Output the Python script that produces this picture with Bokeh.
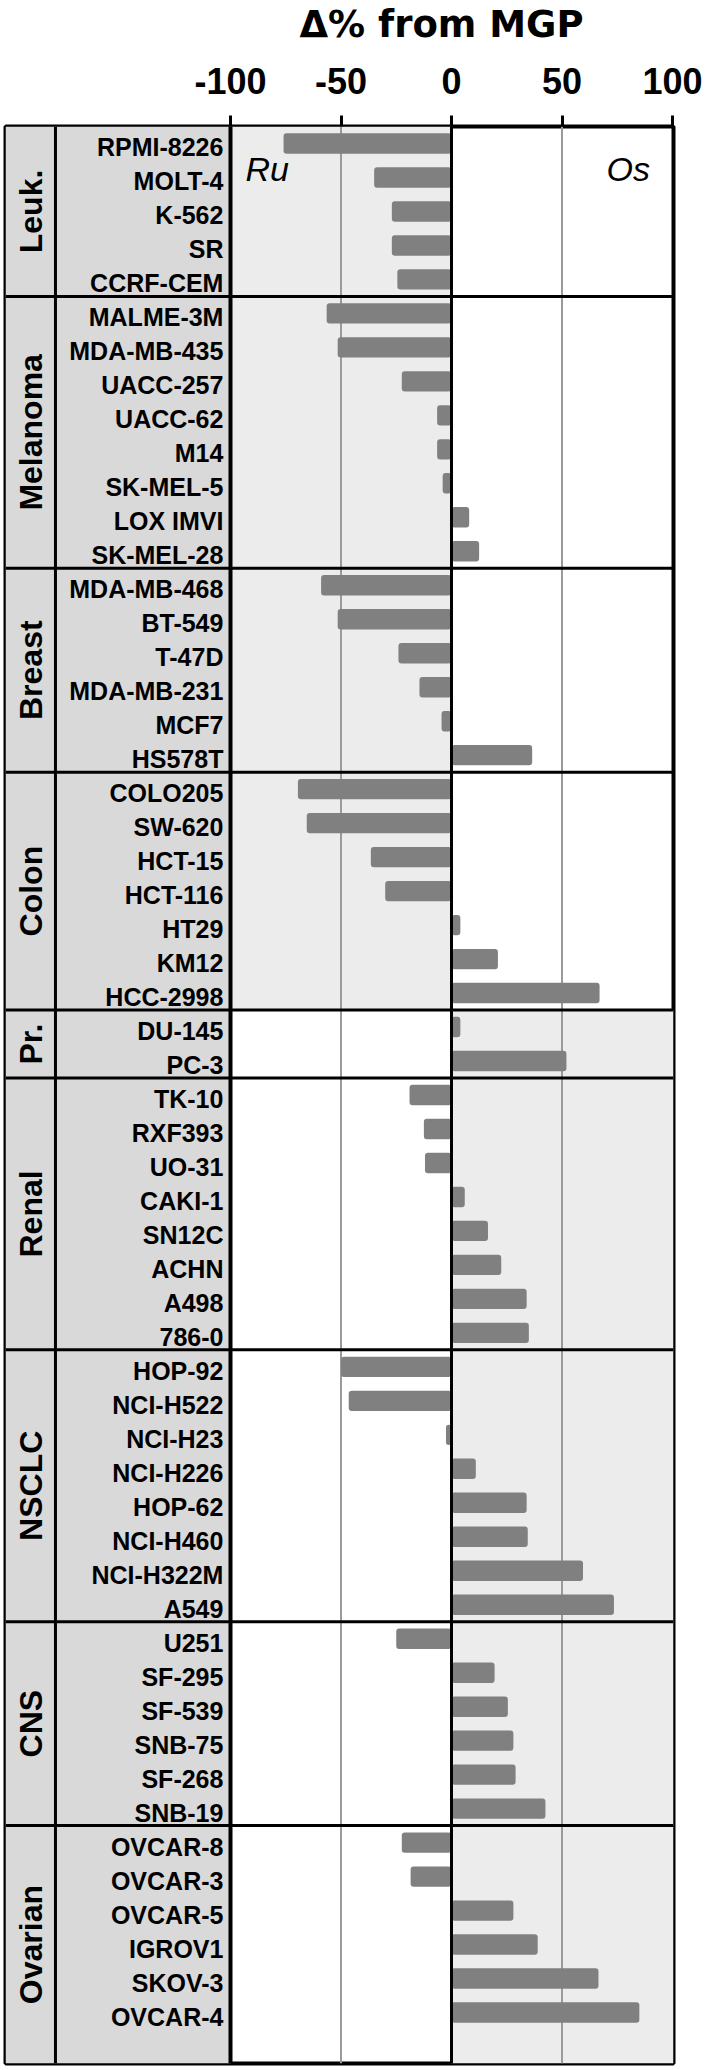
import numpy as np
from bokeh.plotting import figure
from bokeh.layouts import column
from bokeh.models import Range1d, FixedTicker
from bokeh.core.properties import value
from bokeh.embed import file_html
from bokeh.resources import INLINE

# ---------------- data ----------------
groups = ["Leuk.", "Melanoma", "Breast", "Colon", "Pr.", "Renal", "NSCLC", "CNS", "Ovarian"]

leuk_cells = ["RPMI-8226", "MOLT-4", "K-562", "SR", "CCRF-CEM"]
leuk_vals = [-76, -35, -27, -27, -24.5]
melanoma_cells = ["MALME-3M", "MDA-MB-435", "UACC-257", "UACC-62", "M14", "SK-MEL-5", "LOX IMVI", "SK-MEL-28"]
melanoma_vals = [-56.5, -51.5, -22.5, -6.5, -6.5, -4, 8, 12.5]
breast_cells = ["MDA-MB-468", "BT-549", "T-47D", "MDA-MB-231", "MCF7", "HS578T"]
breast_vals = [-59, -51.5, -24, -14.5, -4.5, 36.5]
colon_cells = ["COLO205", "SW-620", "HCT-15", "HCT-116", "HT29", "KM12", "HCC-2998"]
colon_vals = [-69.5, -65.5, -36.5, -30, 4, 21, 67]
prostate_cells = ["DU-145", "PC-3"]
prostate_vals = [4, 52]
renal_cells = ["TK-10", "RXF393", "UO-31", "CAKI-1", "SN12C", "ACHN", "A498", "786-0"]
renal_vals = [-19, -12.5, -12, 6, 16.5, 22.5, 34, 35]
nsclc_cells = ["HOP-92", "NCI-H522", "NCI-H23", "NCI-H226", "HOP-62", "NCI-H460", "NCI-H322M", "A549"]
nsclc_vals = [-50, -46.5, -2.5, 11, 34, 34.5, 59.5, 73.5]
cns_cells = ["U251", "SF-295", "SF-539", "SNB-75", "SF-268", "SNB-19"]
cns_vals = [-25, 19.5, 25.5, 28, 29, 42.5]
ovarian_cells = ["OVCAR-8", "OVCAR-3", "OVCAR-5", "IGROV1", "SKOV-3", "OVCAR-4"]
ovarian_vals = [-22.5, -18.5, 28, 39, 66.5, 85]

tick_values = [-100, -50, 0, 50, 100]
tick_labels = ["-100", "-50", "0", "50", "100"]
title_text = "Δ% from MGP"
left_tag = "Ru"
right_tag = "Os"

cells_by_group = [leuk_cells, melanoma_cells, breast_cells, colon_cells, prostate_cells,
                  renal_cells, nsclc_cells, cns_cells, ovarian_cells]
vals_by_group = [leuk_vals, melanoma_vals, breast_vals, colon_vals, prostate_vals,
                 renal_vals, nsclc_vals, cns_vals, ovarian_vals]

# ---------------- layout ----------------
shade_left = [True, True, True, True, False, False, False, False, False]
blank_after = [0, 0, 0, 0, 0, 0, 0, 0, 1]

row_y, row_cell, row_val = [], [], []
bounds = []
pos = 0
for cells, vals, extra in zip(cells_by_group, vals_by_group, blank_after):
    start = pos
    for c, v in zip(cells, vals):
        row_y.append(pos + 0.5)
        row_cell.append(c)
        row_val.append(v)
        pos += 1
    pos += extra
    bounds.append((start, pos))
N = pos

W, H = 708, 2070
HEAD = 48
X_LEFT, X_RIGHT = -201.81, 100.45
X_GROUP_DIV = -179.2
X_LABEL_RIGHT = -103.2
X_GROUP_TEXT = -190.3
xr = Range1d(X_LEFT, X_RIGHT)

# ---- title strip ----
t = figure(width=W, height=HEAD, x_range=xr, y_range=Range1d(0, 1),
           output_backend="svg", toolbar_location=None,
           x_axis_location=None, y_axis_location=None,
           min_border_left=5, min_border_right=35, min_border_top=0, min_border_bottom=0)
t.outline_line_color = None
t.xgrid.visible = False
t.ygrid.visible = False
t.text(x=[0], y=[0.5], text=[title_text], text_align="center", text_baseline="middle",
       x_offset=-10, text_font=value("DejaVu Sans"), text_font_style="bold",
       text_font_size="37px", text_color="black")

# ---- main chart ----
p = figure(width=W, height=H - HEAD, x_range=xr, y_range=Range1d(N, 0),
           output_backend="svg", toolbar_location=None,
           x_axis_location="above", y_axis_location=None,
           min_border_left=5, min_border_right=35, min_border_top=126 - HEAD, min_border_bottom=7)
p.background_fill_color = "white"
p.border_fill_color = "white"
p.outline_line_color = "black"
p.outline_line_width = 4
p.xgrid.visible = False
p.ygrid.visible = False

ax = p.xaxis[0]
ax.ticker = FixedTicker(ticks=tick_values)
ax.major_label_overrides = {tv: s for tv, s in zip(tick_values, tick_labels)}
ax.axis_line_color = None
ax.major_tick_out = 11
ax.major_tick_in = 0
ax.major_tick_line_width = 3
ax.major_tick_line_color = "black"
ax.minor_tick_line_color = None
ax.major_label_standoff = 22
ax.major_label_text_font = "Liberation Sans"
ax.major_label_text_font_style = "bold"
ax.major_label_text_font_size = "36px"
ax.major_label_text_color = "black"

# backgrounds
p.quad(left=X_LEFT, right=-100, top=0, bottom=N, fill_color="#d9d9d9", line_color=None)
for (s, e), sh in zip(bounds, shade_left):
    if sh:
        p.quad(left=-100, right=0, top=s, bottom=e, fill_color="#ececec", line_color=None)
    else:
        p.quad(left=0, right=X_RIGHT, top=s, bottom=e, fill_color="#ececec", line_color=None)

# grid lines
p.segment(x0=[-50, 50], x1=[-50, 50], y0=[0, 0], y1=[N, N], line_color="#9a9a9a", line_width=2)

# bars
p.hbar(y=row_y, left=0, right=row_val, height=0.6, fill_color="#808080", line_color=None,
       border_radius=3)

# zero line and dividers
p.segment(x0=[0], x1=[0], y0=[0], y1=[N], line_color="black", line_width=3)
p.segment(x0=[-100], x1=[-100], y0=[0], y1=[N], line_color="black", line_width=4)
p.segment(x0=[X_GROUP_DIV], x1=[X_GROUP_DIV], y0=[0], y1=[N], line_color="black", line_width=3)
seps = [b[1] for b in bounds[:-1]]
p.segment(x0=[X_LEFT] * len(seps), x1=[X_RIGHT] * len(seps), y0=seps, y1=seps,
          line_color="black", line_width=3)

# cell labels
p.text(x=[X_LABEL_RIGHT] * len(row_cell), y=row_y, text=row_cell, text_align="right",
       text_baseline="middle", text_font=value("Liberation Sans"), text_font_style="bold",
       text_font_size="25px", text_color="black", y_offset=4)

# group labels
gy = [(s + e) / 2 for s, e in bounds]
p.text(x=[X_GROUP_TEXT] * len(groups), y=gy, text=groups, angle=np.pi / 2,
       text_align="center", text_baseline="middle", text_font=value("Liberation Sans"),
       text_font_style="bold", text_font_size="32px", text_color="black")

# Ru / Os tags
p.text(x=[-93.2], y=[1.25], text=[left_tag], text_align="left", text_baseline="middle",
       text_font=value("Liberation Sans"), text_font_style="italic", text_font_size="34px",
       text_color="black")
p.text(x=[89.8], y=[1.25], text=[right_tag], text_align="right", text_baseline="middle",
       text_font=value("Liberation Sans"), text_font_style="italic", text_font_size="34px",
       text_color="black")

layout = column(t, p, spacing=0)
open("out.html", "w").write(file_html(layout, INLINE))
